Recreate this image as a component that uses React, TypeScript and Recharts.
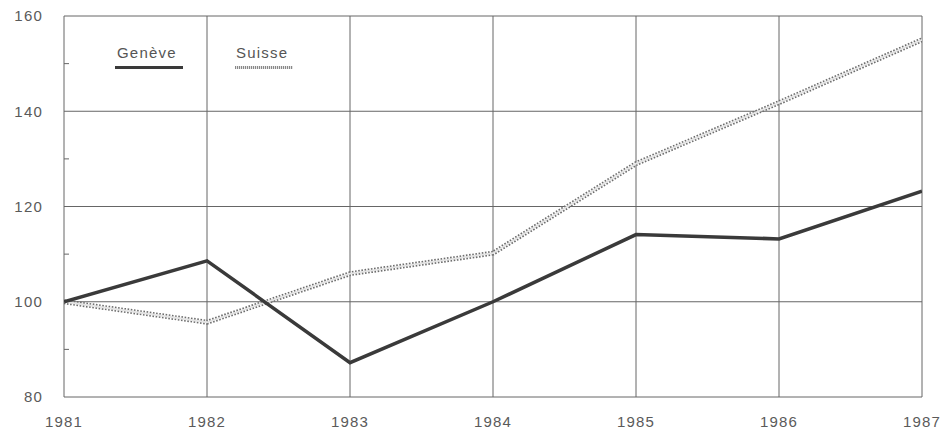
import React from "react";
import { LineChart, Line, XAxis, YAxis, CartesianGrid } from "recharts";

const years = [1981, 1982, 1983, 1984, 1985, 1986, 1987];
const geneve = [100, 108.6, 87.2, 100, 114.1, 113.2, 123.2];
const suisse = [100, 95.7, 105.9, 110.2, 129, 141.8, 155];
const yTicks = [80, 100, 120, 140, 160];
const yAllTicks = [80, 90, 100, 110, 120, 130, 140, 150, 160];
const seriesNames = ["Genève", "Suisse"];

const data = years.map((y, i) => ({ year: y, geneve: geneve[i], suisse: suisse[i] }));

const font = "'Liberation Sans', Arial, sans-serif";
const tickStyle = { fill: "#5a5a5a", fontSize: 15, fontFamily: font, letterSpacing: 1.2 };

const YTick = (props: any) => {
  const { y, payload } = props;
  const v = payload.value;
  if (yTicks.includes(v)) {
    return (
      <text x={43} y={y} dy="0.355em" textAnchor="end" {...tickStyle}>
        {v}
      </text>
    );
  }
  return <line x1={64} y1={y} x2={69} y2={y} stroke="#666" strokeWidth={1} />;
};

export default function App() {
  return (
    <div style={{ position: "absolute", left: 0, top: 0, width: 944, height: 432, background: "#fff" }}>
      <LineChart width={944} height={432} data={data} margin={{ top: 16, right: 22, bottom: 5, left: 0 }}>
        <CartesianGrid yAxisId="left" horizontalValues={yTicks} verticalValues={years} stroke="#666" strokeWidth={1} />
        <XAxis
          dataKey="year"
          type="number"
          domain={[1981, 1987]}
          ticks={years}
          height={30}
          axisLine={false}
          tickLine={false}
          tickSize={0}
          tickMargin={19}
          tick={tickStyle}
          interval={0}
          allowDataOverflow
        />
        <YAxis
          yAxisId="left"
          width={64}
          domain={[80, 160]}
          ticks={yAllTicks}
          axisLine={false}
          tickLine={false}
          tickSize={0}
          tickMargin={21}
          tick={<YTick />}
          interval={0}
        />
        <Line
          yAxisId="left"
          dataKey="suisse"
          name={seriesNames[1]}
          stroke="#6e6e6e"
          strokeWidth={5}
          strokeDasharray="1.6 1.6"
          dot={false}
          isAnimationActive={false}
          legendType="none"
        />
        <Line
          yAxisId="left"
          dataKey="suisse"
          name={seriesNames[1]}
          stroke="#e4e4e4"
          strokeWidth={1.8}
          dot={false}
          isAnimationActive={false}
          legendType="none"
        />
        <Line
          yAxisId="left"
          dataKey="geneve"
          name={seriesNames[0]}
          stroke="#3a3a3a"
          strokeWidth={3.5}
          dot={false}
          isAnimationActive={false}
          legendType="none"
        />
      </LineChart>
      <div style={{ position: "absolute", left: 115, top: 44, width: 220, height: 40, fontFamily: font, fontSize: 15, letterSpacing: 1.2, color: "#555" }}>
        <div style={{ position: "absolute", left: 2, top: 0 }}>{seriesNames[0]}</div>
        <div style={{ position: "absolute", left: 0, top: 22, width: 68, height: 3, background: "#3a3a3a" }} />
        <div style={{ position: "absolute", left: 121, top: 0 }}>{seriesNames[1]}</div>
        <div
          style={{
            position: "absolute",
            left: 120,
            top: 22,
            width: 58,
            height: 3,
            background: "repeating-linear-gradient(90deg, #888 0 1px, #e4e4e4 1px 2px)",
          }}
        />
      </div>
    </div>
  );
}
